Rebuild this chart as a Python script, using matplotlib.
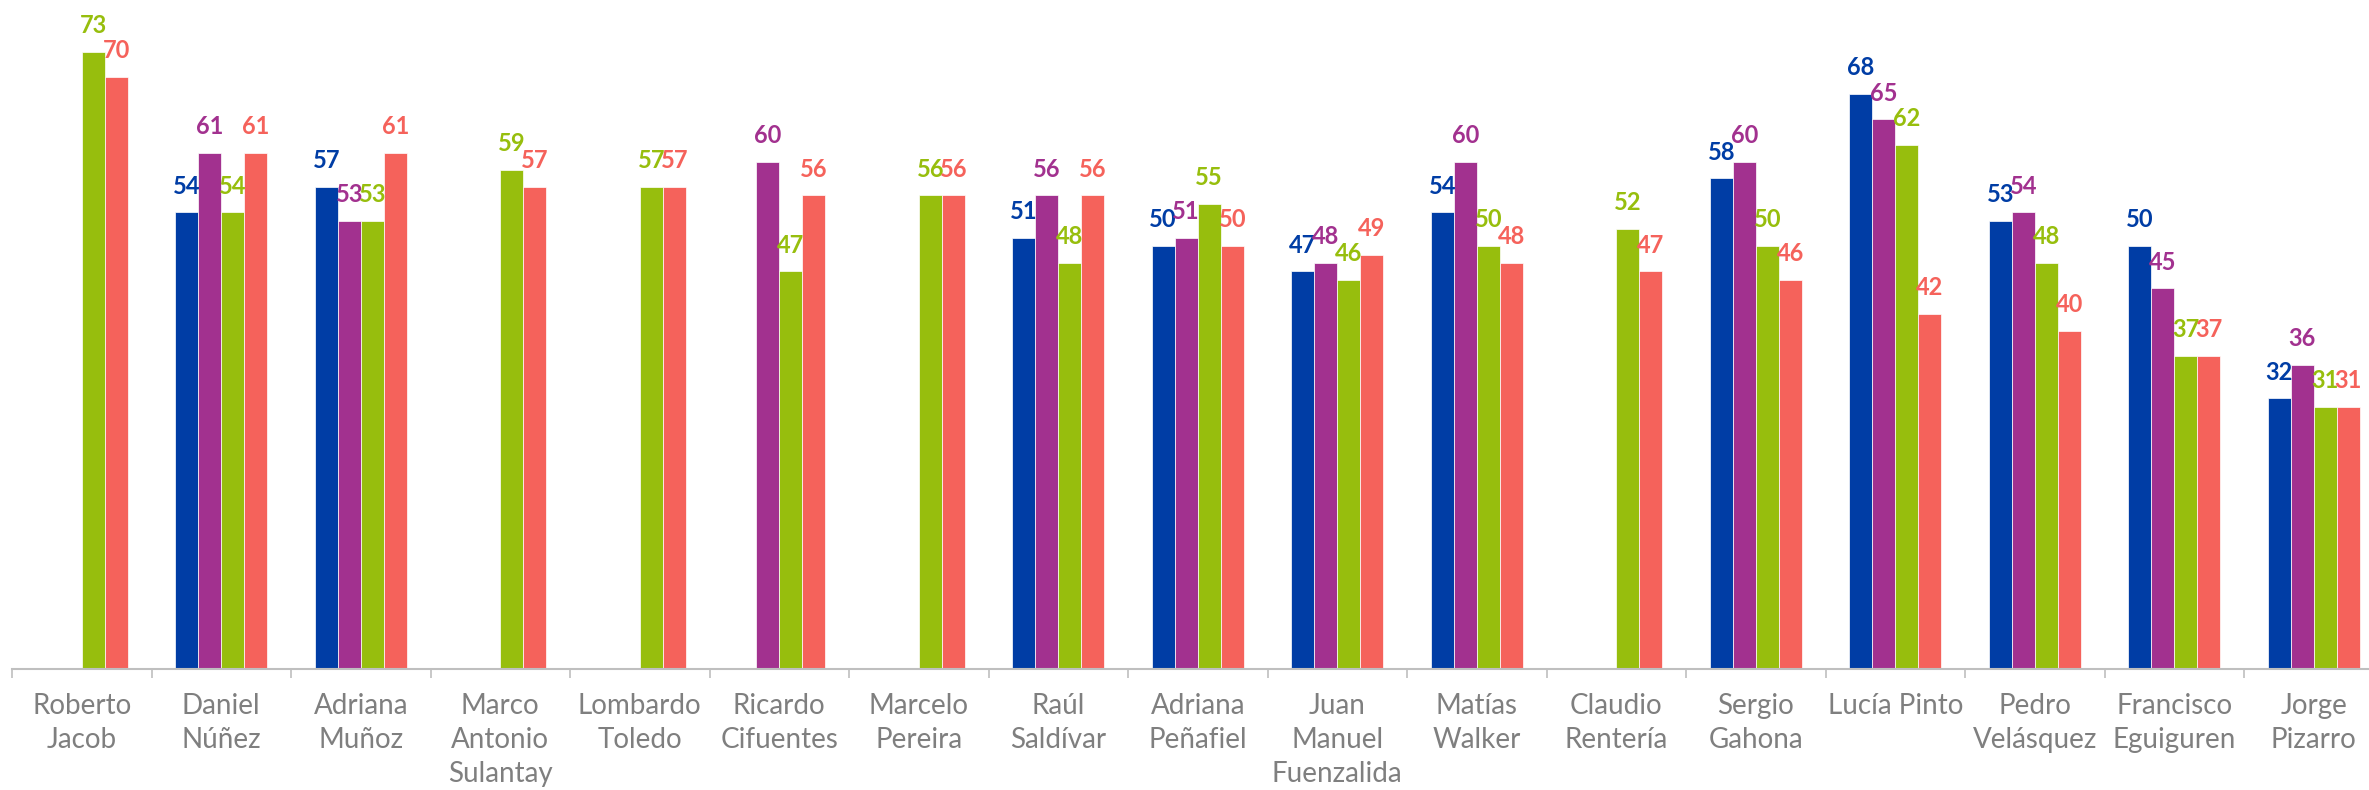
import numpy as np
import matplotlib
matplotlib.use("Agg")
import matplotlib.pyplot as plt

# data (nan = no bar)
nan = np.nan
names = ['Roberto\nJacob', 'Daniel\nNúñez', 'Adriana\nMuñoz', 'Marco\nAntonio\nSulantay',
         'Lombardo\nToledo', 'Ricardo\nCifuentes', 'Marcelo\nPereira', 'Raúl\nSaldívar',
         'Adriana\nPeñafiel', 'Juan\nManuel\nFuenzalida', 'Matías\nWalker', 'Claudio\nRentería',
         'Sergio\nGahona', 'Lucía Pinto', 'Pedro\nVelásquez', 'Francisco\nEguiguren', 'Jorge\nPizarro']
serie_azul = [nan, 54, 57, nan, nan, nan, nan, 51, 50, 47, 54, nan, 58, 68, 53, 50, 32]
serie_morada = [nan, 61, 53, nan, nan, 60, nan, 56, 51, 48, 60, nan, 60, 65, 54, 45, 36]
serie_verde = [73, 54, 53, 59, 57, 47, 56, 48, 55, 46, 50, 52, 50, 62, 48, 37, 31]
serie_roja = [70, 61, 61, 57, 57, 56, 56, 56, 50, 49, 48, 47, 46, 42, 40, 37, 31]

series = [serie_azul, serie_morada, serie_verde, serie_roja]
colors = ['#003DA5', '#A2318F', '#97BE0D', '#F5625B']

W, H = 2369, 790
fig = plt.figure(figsize=(W / 100, H / 100), dpi=100)
ax = fig.add_axes([12 / W, (H - 669) / H, (2383.5 - 12) / W, 669 / H])

x = np.arange(len(names))
bw = 0.165
for i, (vals, col) in enumerate(zip(series, colors)):
    vals = np.array(vals, dtype=float)
    pos = x + (i - 1.5) * bw
    ok = ~np.isnan(vals)
    ax.bar(pos[ok], vals[ok], width=bw, color=col, edgecolor='white', linewidth=0.5)
    for px, v in zip(pos[ok], vals[ok]):
        ax.annotate(f'{v:.0f}', (px, v), xytext=(0, 13.5), textcoords='offset points',
                    ha='center', va='baseline', color=col, fontsize=17,
                    fontweight='bold', family='Lato', annotation_clip=False)

ax.set_xlim(-0.5, len(names) - 0.5)
ax.set_ylim(0, 79.1)
ax.set_yticks([])
for s in ['top', 'right', 'left']:
    ax.spines[s].set_visible(False)
ax.spines['bottom'].set_color('#BFBFBF')
ax.spines['bottom'].set_linewidth(1.5)

ax.set_xticks(x)
ax.set_xticklabels(names, fontsize=20, color='#7F7F7F', family='Lato',
                   linespacing=1.38)
ax.tick_params(axis='x', which='major', length=0, pad=17)
ax.set_xticks(np.arange(len(names) + 1) - 0.5, minor=True)
ax.tick_params(axis='x', which='minor', length=6.5, width=1.2, color='#BFBFBF')

fig.savefig('out.png', dpi=100)
